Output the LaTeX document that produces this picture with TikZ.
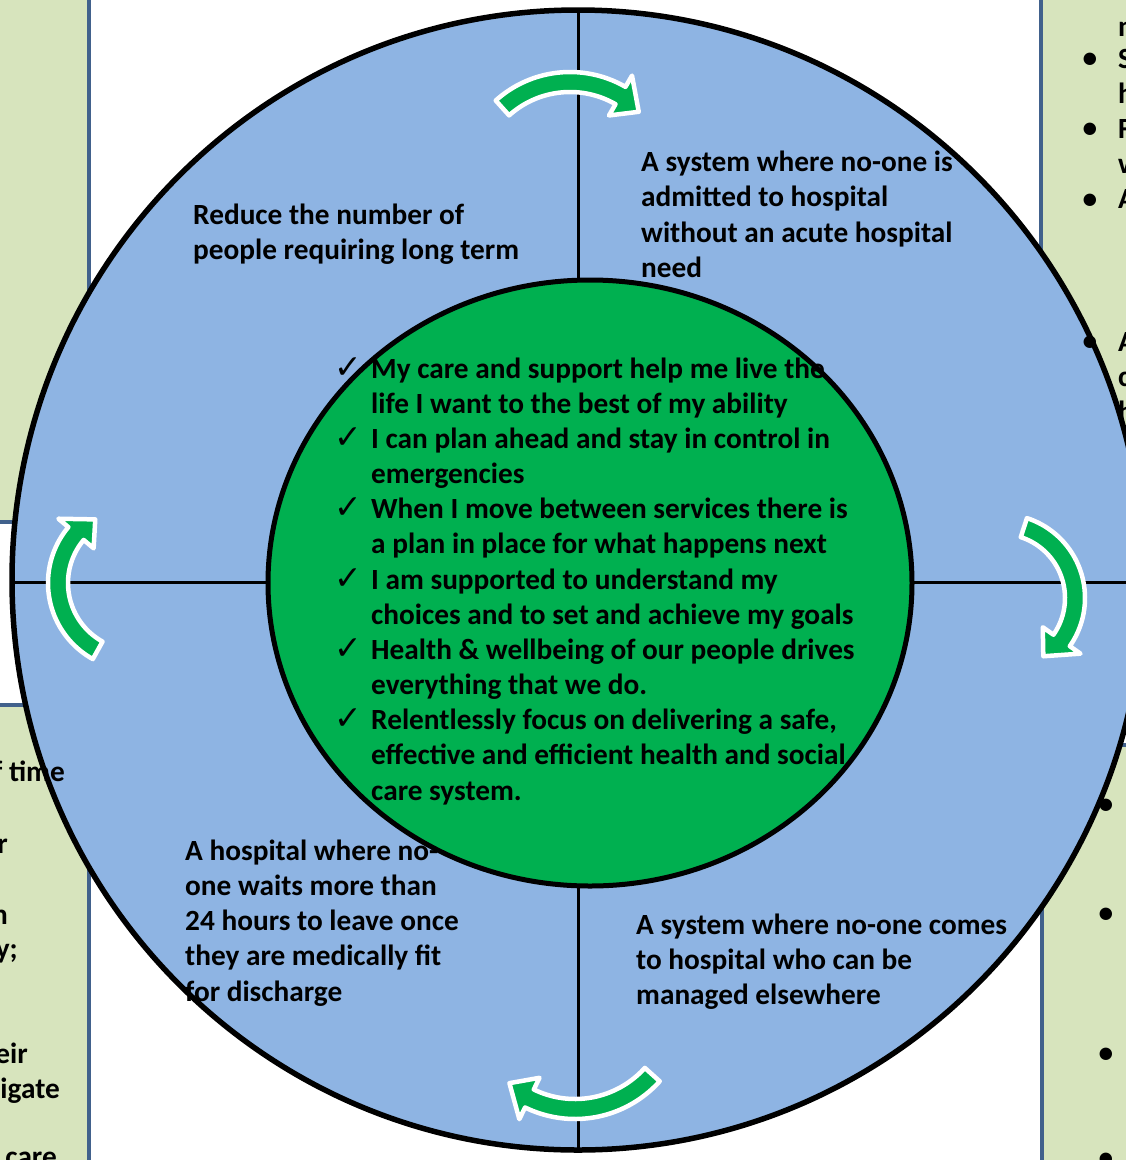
\documentclass[tikz,border=0pt]{standalone}
\usepackage{fontspec}
\setmainfont{Carlito}
\newfontfamily\chkfont{DejaVu Sans}
\definecolor{ringblue}{HTML}{8EB4E3}
\definecolor{coregreen}{HTML}{00B050}
\definecolor{panelfill}{HTML}{D7E4BD}
\definecolor{paneledge}{RGB}{65,97,140}
\tikzset{
  panel/.style={fill=panelfill, draw=paneledge, line width=3.5pt},
  crossline/.style={draw=black, line width=3pt},
  lbl/.style={anchor=base west, inner sep=0pt, font=\fontsize{29.3}{35}\selectfont\bfseries},
  lble/.style={anchor=base east, inner sep=0pt, font=\fontsize{29.3}{35}\selectfont\bfseries},
  chk/.style={anchor=base west, inner sep=0pt, font=\chkfont\fontsize{33}{36}\selectfont},
  bul/.style={anchor=center, inner sep=0pt, font=\fontsize{29.3}{35}\selectfont\bfseries},
  arrowsty/.style={fill=coregreen, draw=white, line width=4.5pt, line join=round}
}
\newcommand{\ringarrow}[6]{%
  \pgfmathsetmacro\arRo{#3+10}%
  \pgfmathsetmacro\arRi{#3-10}%
  \pgfmathsetmacro\arHo{#3+23}%
  \pgfmathsetmacro\arHi{#3-23}%
  \pgfmathsetmacro\arTr{#3-2}%
  \pgfmathsetmacro\arTa{#5+#6}%
  \draw[arrowsty] plot[domain=#4:#5,samples=40] ({#1+\arRo*cos(\x)},{#2+\arRo*sin(\x)})
    -- ({#1+\arHo*cos(#5)},{#2+\arHo*sin(#5)})
    -- ({#1+\arTr*cos(\arTa)},{#2+\arTr*sin(\arTa)})
    -- ({#1+\arHi*cos(#5)},{#2+\arHi*sin(#5)})
    -- plot[domain=#5:#4,samples=40] ({#1+\arRi*cos(\x)},{#2+\arRi*sin(\x)})
    -- cycle;
}
\begin{document}
\begin{tikzpicture}[x=1pt,y=-1pt]
\useasboundingbox (0,0) rectangle (1126,1160);
\clip (0,0) rectangle (1126,1160);
% side panels
\draw[panel] (-10,-10) rectangle (89,522);
\draw[panel] (-10,705) rectangle (89,1175);
\draw[panel] (1041,-10) rectangle (1140,715);
\draw[panel] (1042,745) rectangle (1140,1175);
% big ring
\fill[ringblue] (578,580) ellipse[x radius=566, y radius=570];
\draw[crossline] (578,10) -- (578,1150);
\draw[crossline] (12,582) -- (1144,582);
\draw[line width=5.5pt] (578,580) ellipse[x radius=566, y radius=570];
% core
\draw[fill=coregreen, line width=5pt] (590,583) ellipse[x radius=322, y radius=303];
% arrows
\ringarrow{570}{183}{101}{-132}{-60}{14}
\ringarrow{1001}{598}{74}{-72}{35}{19}
\ringarrow{575}{1005}{104}{42}{116}{14}
\ringarrow{135}{583}{77}{119}{220}{18}
% quadrant texts
\node[lbl] (qa1) at (193,224) {Reduce the number of};
\node[lbl] (qa2) at (193,259) {people requiring long term};
\node[lbl] (qb1) at (641,171) {A system where no-one is};
\node[lbl] (qb2) at (641,206) {admitted to hospital};
\node[lbl] (qb3) at (641,242) {without an acute hospital};
\node[lbl] (qb4) at (641,277) {need};
\node[lbl] (qc1) at (185,860) {A hospital where no-};
\node[lbl] (qc2) at (185,895) {one waits more than};
\node[lbl] (qc3) at (185,930) {24 hours to leave once};
\node[lbl] (qc4) at (185,965) {they are medically fit};
\node[lbl] (qc5) at (185,1001) {for discharge};
\node[lbl] (qd1) at (636,934) {A system where no-one comes};
\node[lbl] (qd2) at (636,969) {to hospital who can be};
\node[lbl] (qd3) at (636,1004) {managed elsewhere};
% core texts
\node[chk] (k1) at (334,378) {✓};
\node[lbl] (c1) at (371,378) {My care and support help me live the};
\node[lbl] (c2) at (371,413.2) {life I want to the best of my ability};
\node[chk] (k2) at (334,448.3) {✓};
\node[lbl] (c3) at (371,448.3) {I can plan ahead and stay in control in};
\node[lbl] (c4) at (371,483.5) {emergencies};
\node[chk] (k3) at (334,518.7) {✓};
\node[lbl] (c5) at (371,518.7) {When I move between services there is};
\node[lbl] (c6) at (371,553.9) {a plan in place for what happens next};
\node[chk] (k4) at (334,589) {✓};
\node[lbl] (c7) at (371,589) {I am supported to understand my};
\node[lbl] (c8) at (371,624.2) {choices and to set and achieve my goals};
\node[chk] (k5) at (334,659.4) {✓};
\node[lbl] (c9) at (371,659.4) {Health \& wellbeing of our people drives};
\node[lbl] (c10) at (371,694.5) {everything that we do.};
\node[chk] (k6) at (334,729.7) {✓};
\node[lbl] (c11) at (371,729.7) {Relentlessly focus on delivering a safe,};
\node[lbl] (c12) at (371,764.9) {effective and efficient health and social};
\node[lbl] (c13) at (371,800) {care system.};
% left panel fragments
\node[lble] (l1) at (65,781) {f time};
\node[lble] (l2) at (8,853) {r};
\node[lble] (l3) at (8,924) {n};
\node[lble] (l4) at (18,958) {y;};
\node[lble] (l5) at (28,1063) {eir};
\node[lble] (l6) at (60,1098) {igate};
\node[lble] (l7) at (57,1166) {care};
% right panel fragments
\node[lbl] (r1) at (1118,36) {n};
\node[bul] (rb2) at (1090,60) {•};
\node[lbl] (r2) at (1118,68) {S};
\node[lbl] (r3) at (1118,103) {h};
\node[bul] (rb4) at (1090,130) {•};
\node[lbl] (r4) at (1118,138) {F};
\node[lbl] (r5) at (1118,173) {w};
\node[bul] (rb6) at (1090,201) {•};
\node[lbl] (r6) at (1118,208) {A};
\node[bul] (rb7) at (1090,343) {•};
\node[lbl] (r7) at (1118,351) {A};
\node[lbl] (r8) at (1118,386) {c};
\node[lbl] (r9) at (1118,421) {h};
\node[bul] (rb10) at (1106,806) {•};
\node[bul] (rb11) at (1106,915) {•};
\node[bul] (rb12) at (1106,1055) {•};
\node[bul] (rb13) at (1106,1160) {•};
\end{tikzpicture}
\end{document}
